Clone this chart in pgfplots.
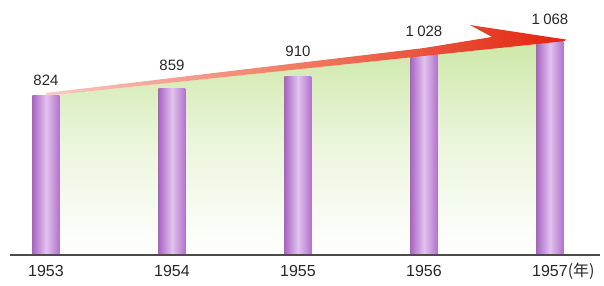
\documentclass[border=0pt]{standalone}
\usepackage{pgfplots}
\pgfplotsset{compat=1.18}
\usepackage{fontspec}
\setmainfont{Liberation Sans}
\newfontfamily\cjk{Noto Sans CJK SC}
\definecolor{barL}{RGB}{168,102,192}
\definecolor{barM}{RGB}{226,194,238}
\definecolor{barR}{RGB}{178,115,203}
\definecolor{bandL}{RGB}{248,200,195}
\definecolor{bandM}{RGB}{240,120,95}
\definecolor{bandR}{RGB}{226,36,16}
\definecolor{grTop}{RGB}{205,232,168}
\definecolor{grMid}{RGB}{236,246,222}
\definecolor{txt}{RGB}{40,40,40}
\definecolor{base}{RGB}{75,75,75}
\pgfplotsset{mybar/.style={ybar, bar shift=0pt, bar width=27pt, draw=none,
  left color=barL, right color=barR, middle color=barM}}
\begin{document}
\begin{tikzpicture}
\begin{axis}[
  at={(0,0)}, anchor=south west,
  scale only axis, width=604pt, height=255pt,
  xmin=-0.365, xmax=4.429, ymin=105, ymax=1257,
  axis line style={draw=none},
  hide y axis,
  clip mode=individual,
  xtick={0,1,2,3,4},
  xticklabels={1953,1954,1955,1956,{1957\rlap{\cjk (年)}}},
  xtick style={draw=none},
  major tick length=0pt,
  xticklabel style={anchor=base, yshift=-21pt, font=\fontsize{16}{18}\selectfont, text=txt},
]
% green area under the trend (from first to last value)
\addplot[draw=none, top color=grTop, bottom color=white, middle color=grMid]
  coordinates {(0,824) (4,1068)}
  -- (axis cs:4,105) -- (axis cs:0,105) -- cycle;
% bars, one path each so that each has its own shading
\addplot[mybar] coordinates {(0,824)};
\addplot[mybar] coordinates {(1,859)};
\addplot[mybar] coordinates {(2,910)};
\addplot[mybar] coordinates {(3,1028)};
\addplot[mybar] coordinates {(4,1068)};
% red arrow band
\addplot[draw=none, left color=bandL, right color=bandR, middle color=bandM]
  coordinates {(0,824) (0,837) (3,1040) (3.54,1090) (3.365,1144) (4.13,1078) (4.11,1071)}
  -- cycle;
% base line
\draw[line width=2pt, base] (axis cs:-0.286,105) -- (axis cs:4.40,105);
% value labels
\begin{scope}[every node/.style={font=\fontsize{15}{17}\selectfont, text=txt}]
\node at (axis cs:0,896) {824};
\node at (axis cs:1,964) {859};
\node at (axis cs:2,1027) {910};
\node at (axis cs:3,1117) {1\hspace{0.22em}028};
\node at (axis cs:4,1171) {1\hspace{0.22em}068};
\end{scope}
\end{axis}
\pgfresetboundingbox
\path[use as bounding box] (0pt,-30pt) rectangle (604pt,255pt);
\end{tikzpicture}
\end{document}
